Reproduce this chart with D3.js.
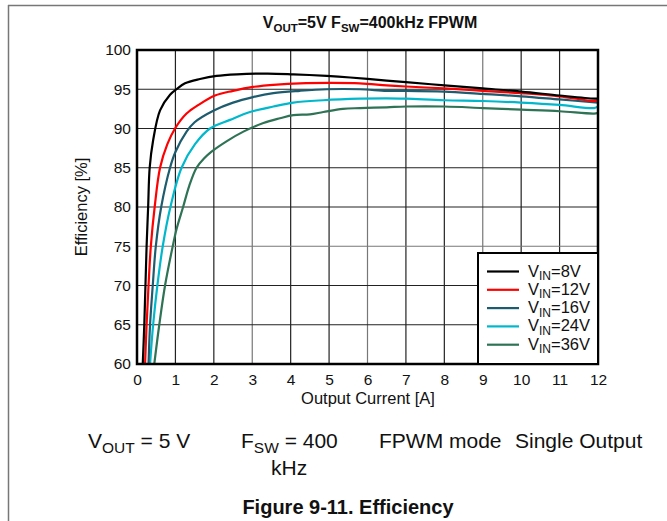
<!DOCTYPE html>
<html><head><meta charset="utf-8">
<script src="https://cdn.jsdelivr.net/npm/d3@7"></script>
<style>body{margin:0;background:#fff}svg{display:block}text{font-family:"Liberation Sans",Arial,sans-serif}</style>
</head><body>
<svg id="c" width="667" height="521"></svg>
<script>
const xTicks = [0,1,2,3,4,5,6,7,8,9,10,11,12];
const yTicks = [60,65,70,75,80,85,90,95,100];
const seriesNames = ["8V","12V","16V","24V","36V"];
const seriesColors = ["#000000","#ff0000","#1d5b6e","#00b8cc","#2e7355"];

const cur8 = [0.15,0.19,0.22,0.25,0.29,0.33,0.42,0.6,0.86,1.03,1.25,1.64,2.07,2.6,3.4,4.07,4.94,5.55,6.5,7,8,9,10,11,11.9,12];
const eff8 = [60,65,70,75,80,85,88.5,92.3,94.3,95,95.75,96.3,96.7,96.9,97.0,96.9,96.7,96.5,96.1,95.9,95.5,95.1,94.7,94.2,93.8,93.8];
const cur12 = [0.21,0.25,0.3,0.36,0.46,0.6,0.79,0.99,1.29,1.6,2.03,2.5,3.02,3.64,4.24,5.0,5.8,6.5,7,8,9,10,11,11.9,12];
const eff12 = [60,65,70,75,80,85,88,90,91.9,93,94.2,94.8,95.3,95.6,95.75,95.8,95.75,95.5,95.35,95.1,94.8,94.5,94.1,93.5,93.6];
const cur16 = [0.3,0.34,0.41,0.49,0.63,0.86,1.0,1.29,1.5,2.0,2.5,3.02,3.55,4.24,4.94,5.8,6.5,7,8,9,10,11,12];
const eff16 = [60,65,70,75,80,85,87,89.6,90.8,92.3,93.3,94.0,94.5,94.8,95.0,95.0,94.8,94.8,94.7,94.4,94.1,93.7,93.3];
const cur24 = [0.34,0.42,0.53,0.67,0.87,1.16,1.51,1.9,2.42,2.94,3.55,4.07,4.85,5.8,6.5,7,8,9,10,11,11.9,12];
const eff24 = [60,65,70,75,80,85,88,90,91.1,92.1,92.8,93.3,93.6,93.8,93.85,93.8,93.6,93.5,93.3,93.0,92.6,92.8];
const cur36 = [0.45,0.58,0.73,0.93,1.03,1.2,1.36,1.55,1.75,1.94,2.34,2.77,3.29,3.72,4.07,4.5,4.85,5.36,5.8,6.5,7,8,9,10,11,11.9,12];
const eff36 = [60,65,70,75,77.2,80,82.7,85,86.2,87.05,88.4,89.6,90.7,91.3,91.7,91.8,92.1,92.5,92.6,92.7,92.8,92.8,92.6,92.4,92.2,91.9,92.0];

const currents = [cur8,cur12,cur16,cur24,cur36];
const effs = [eff8,eff12,eff16,eff24,eff36];

const svg = d3.select("#c");
const L=137, R=598, T=50, B=364;
const x = d3.scaleLinear().domain([0,12]).range([L,R]);
const y = d3.scaleLinear().domain([60,100]).range([B,T]);

// page frame
svg.append("line").attr("x1",8.5).attr("x2",8.5).attr("y1",5).attr("y2",521).attr("stroke","#777").attr("stroke-width",1.5);
svg.append("line").attr("x1",8).attr("x2",667).attr("y1",5.5).attr("y2",5.5).attr("stroke","#777").attr("stroke-width",1.5);

// title
const title = svg.append("text").attr("x",370).attr("y",28).attr("text-anchor","middle").attr("font-size",16).attr("font-weight","bold").attr("fill","#111");
title.append("tspan").text("V");
title.append("tspan").attr("font-size",11.5).attr("dy",3.5).text("OUT");
title.append("tspan").attr("dy",-3.5).text("=5V F");
title.append("tspan").attr("font-size",11.5).attr("dy",3.5).text("SW");
title.append("tspan").attr("dy",-3.5).text("=400kHz FPWM");

// grid
svg.append("g").selectAll("line").data(xTicks.slice(1,-1)).join("line")
  .attr("x1",d=>x(d)).attr("x2",d=>x(d)).attr("y1",T).attr("y2",B)
  .attr("stroke",(d)=>d%3===0?"#777":"#222").attr("stroke-width",1.2);
svg.append("g").selectAll("line").data(yTicks.slice(1,-1)).join("line")
  .attr("x1",L).attr("x2",R).attr("y1",d=>y(d)).attr("y2",d=>y(d))
  .attr("stroke",(d)=>d===75?"#777":"#222").attr("stroke-width",1.2);

// axes (labels only)
const xa = svg.append("g").attr("transform",`translate(0,${B})`).call(d3.axisBottom(x).tickValues(xTicks).tickSize(0).tickPadding(10));
const ya = svg.append("g").attr("transform",`translate(${L},0)`).call(d3.axisLeft(y).tickValues(yTicks).tickSize(0).tickPadding(6));
[xa,ya].forEach(a=>{a.select(".domain").remove();a.selectAll("text").attr("font-size",15.5).attr("fill","#111").style("font-family","'Liberation Sans',Arial,sans-serif");});

// lines
const line = d3.line().curve(d3.curveCatmullRom.alpha(0.5)).x(d=>x(d[0])).y(d=>y(d[1]));
svg.append("clipPath").attr("id","pc").append("rect").attr("x",L).attr("y",T).attr("width",R-L).attr("height",B-T);
const gl = svg.append("g").attr("clip-path","url(#pc)");
for(let i=seriesNames.length-1;i>=0;i--){
  const pts = currents[i].map((c,j)=>[c,effs[i][j]]);
  gl.append("path").datum(pts).attr("d",line).attr("fill","none").attr("stroke",seriesColors[i]).attr("stroke-width",2.2);
}

// border
svg.append("rect").attr("x",L).attr("y",T).attr("width",R-L).attr("height",B-T).attr("fill","none").attr("stroke","#000").attr("stroke-width",2.5);

// legend
const lg = svg.append("g");
lg.append("rect").attr("x",478).attr("y",253).attr("width",R-478).attr("height",B-253).attr("fill","#fff").attr("stroke","#000").attr("stroke-width",2);
seriesNames.forEach((n,i)=>{
  const yy = 271.5 + i*18.3;
  lg.append("line").attr("x1",487).attr("x2",519).attr("y1",yy).attr("y2",yy).attr("stroke",seriesColors[i]).attr("stroke-width",2.2);
  const t = lg.append("text").attr("x",528).attr("y",yy+5).attr("font-size",16.5).attr("fill","#111");
  t.append("tspan").text("V");
  t.append("tspan").attr("font-size",12).attr("dy",3.5).text("IN");
  t.append("tspan").attr("dy",-3.5).text("="+n);
});

// axis titles
svg.append("text").attr("x",368).attr("y",404).attr("text-anchor","middle").attr("font-size",16.5).attr("fill","#111").text("Output Current [A]");
svg.append("text").attr("transform","translate(87,207) rotate(-90)").attr("text-anchor","middle").attr("font-size",16.5).attr("fill","#111").text("Efficiency [%]");

// captions
function cap(xp, yp, main, s, rest){
  const t = svg.append("text").attr("x",xp).attr("y",yp).attr("font-size",21).attr("fill","#111");
  t.append("tspan").text(main);
  if(s){ t.append("tspan").attr("font-size",15.5).attr("dy",4.5).text(s); t.append("tspan").attr("dy",-4.5).text(rest); }
  return t;
}
cap(88,448,"V","OUT"," = 5 V");
cap(241,448,"F","SW"," = 400");
cap(271,475,"kHz");
cap(379,448,"FPWM mode");
cap(515,448,"Single Output");
svg.append("text").attr("x",348).attr("y",514).attr("text-anchor","middle").attr("font-size",20).attr("font-weight","bold").attr("fill","#111").text("Figure 9-11. Efficiency");
</script>
</body></html>
